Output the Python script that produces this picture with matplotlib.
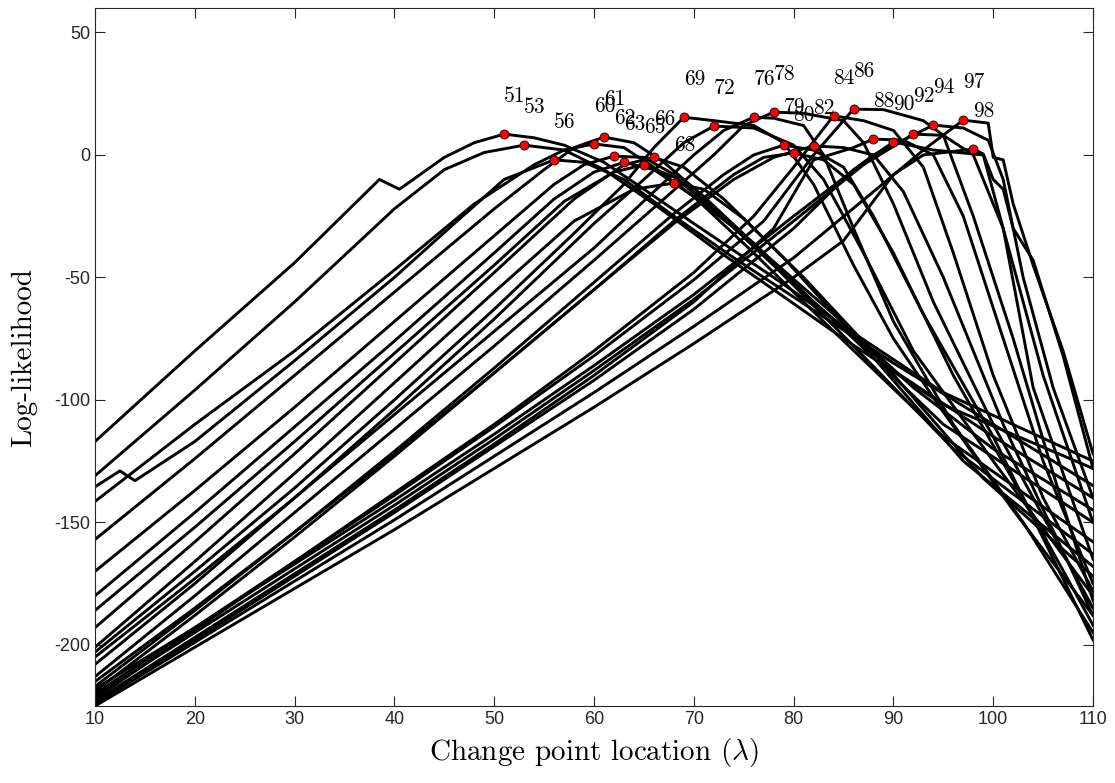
import matplotlib
matplotlib.use("Agg")
import matplotlib.pyplot as plt

plt.rcParams["axes.unicode_minus"] = False
plt.rcParams["mathtext.fontset"] = "cm"

# knots (lambda, log-likelihood)
ll_51 = [(10, -117), (20, -80), (30, -44), (38.5, -10), (40.5, -14), (45, -1), (48, 5), (51, 8.5), (54, 7), (57, 4), (61, -3), (65, -14), (70, -28), (78, -50), (85, -70), (95, -97), (110, -125)]
ll_53 = [(10, -131), (20, -96), (30, -60), (40, -22), (45, -6), (49, 1), (53, 4), (57, 2), (61, -6), (66, -20), (72, -38), (78, -55), (85, -75), (95, -102), (110, -128)]
ll_56 = [(10, -135.5), (12.5, -129), (14, -133), (20, -117), (30, -84), (40, -50), (46, -28), (51, -10), (56, -2), (59, -3), (63, -10), (68, -25), (74, -42), (80, -58), (90, -85), (100, -110), (110, -135)]
ll_60 = [(10, -141.5), (20, -110), (30, -80), (40, -47), (48, -20), (54, -4), (57, 2), (60, 4.5), (63, 3), (66, -5), (70, -17), (76, -36), (82, -60), (90, -88), (100, -115), (110, -140)]
ll_61 = [(10, -157), (20, -124), (30, -90), (40, -56), (50, -22), (55, -6), (58, 3), (61, 7.3), (64, 5), (67, -3), (71, -17), (77, -40), (84, -65), (92, -95), (100, -120), (110, -145)]
ll_62 = [(10, -170), (20, -137), (30, -103), (40, -68), (50, -33), (56, -12), (59, -4), (62, -0.5), (65, -1), (68, -8), (72, -22), (78, -45), (86, -75), (95, -110), (110, -150)]
ll_63 = [(10, -180), (20, -146), (30, -111), (40, -76), (50, -40), (56, -18), (60, -7), (63, -3), (66, -6), (70, -17), (76, -40), (84, -72), (95, -115), (110, -158)]
ll_65 = [(10, -186), (20, -152), (30, -117), (40, -81), (50, -45), (57, -19), (62, -7), (65, -4), (68, -9), (72, -22), (78, -45), (86, -78), (96, -120), (110, -163)]
ll_66 = [(10, -193), (20, -158), (30, -122), (40, -85), (50, -48), (58, -18), (63, -4), (66, -1), (69, -5), (73, -18), (79, -42), (87, -78), (97, -125), (110, -168)]
ll_68 = [(10, -201), (20, -166), (30, -130), (40, -93), (50, -56), (58, -27), (64, -14), (68, -11.5), (71, -14), (75, -26), (81, -50), (89, -85), (99, -132), (110, -172)]
ll_69 = [(10, -203), (20, -170), (30, -136), (40, -100), (50, -63), (58, -32), (63, -12), (66, 3), (69, 15.4), (72, 14), (76, 12), (79, 5), (82, -12), (86, -45), (90, -75), (95, -105), (102, -145), (110, -188)]
ll_72 = [(10, -208), (20, -175), (30, -140), (40, -104), (50, -67), (60, -28), (65, -10), (69, 5), (72, 11.8), (76, 11), (80, 4), (83, -10), (87, -40), (92, -80), (100, -125), (110, -180)]
ll_76 = [(10, -205), (20, -173), (30, -140), (40, -106), (50, -72), (60, -38), (66, -15), (70, 0), (73, 10), (76, 15.4), (78, 15), (81, 12), (83, 0), (86, -30), (90, -68), (96, -110), (103, -150), (110, -195)]
ll_78 = [(10, -213), (20, -180), (30, -146), (40, -112), (50, -78), (60, -43), (67, -18), (72, 0), (75, 12), (78, 17.5), (81, 17), (85, 14), (87, 5), (90, -20), (94, -60), (100, -110), (110, -185)]
ll_79 = [(10, -217), (20, -186), (30, -154), (40, -121), (50, -87), (60, -52), (68, -24), (73, -8), (76, 0), (79, 4), (82, 2), (85, -5), (88, -25), (93, -65), (100, -115), (110, -198)]
ll_80 = [(10, -219), (20, -188), (30, -156), (40, -123), (50, -89), (60, -55), (68, -27), (74, -8), (77, -1), (80, 0.8), (83, -2), (86, -12), (90, -40), (96, -90), (103, -140), (110, -192)]
ll_82 = [(10, -215), (20, -185), (30, -154), (40, -122), (50, -89), (60, -55), (68, -28), (74, -10), (78, -1), (82, 3.7), (85, 3), (88, 0), (91, -15), (95, -50), (101, -110), (110, -188)]
ll_84 = [(10, -222), (20, -194), (30, -166), (40, -138), (50, -110), (60, -80), (70, -48), (76, -25), (80, -5), (84, 16), (87, 14), (90, 10), (93, -5), (96, -40), (100, -90), (105, -140), (110, -178)]
ll_86 = [(10, -220), (20, -193), (30, -166), (40, -139), (50, -111), (60, -82), (70, -51), (77, -27), (82, 0), (86, 18.7), (89, 18.5), (93, 14), (95, 8), (98, -25), (102, -75), (106, -130), (110, -182)]
ll_88 = [(10, -223), (20, -197), (30, -171), (40, -145), (50, -118), (60, -90), (70, -60), (78, -30), (82, -2), (86, 3), (88, 6.5), (91, 6), (94, 0), (97, -25), (101, -75), (105, -125), (110, -175)]
ll_90 = [(10, -224), (20, -198), (30, -172), (40, -146), (50, -119), (60, -92), (70, -63), (80, -30), (86, -6), (90, 5.3), (94, 2), (99, 0), (101, -30), (104, -95), (110, -165)]
ll_92 = [(10, -221), (20, -195), (30, -169), (40, -143), (50, -116), (60, -88), (70, -59), (80, -27), (87, -4), (92, 8.5), (95, 8), (98, 0), (101, -30), (105, -90), (110, -150)]
ll_94 = [(10, -218), (20, -193), (30, -167), (40, -141), (50, -114), (60, -86), (70, -57), (80, -25), (88, 0), (94, 12.2), (97, 11), (99.5, 6), (101, -10), (103, -50), (106, -95), (110, -140)]
ll_97 = [(10, -224), (20, -199), (30, -174), (40, -149), (50, -123), (60, -97), (70, -70), (80, -42), (88, -15), (93, 2), (97, 14.2), (99.5, 13), (100, -1), (101, -2), (102, -20), (104, -45), (107, -80), (110, -122)]
ll_98 = [(10, -225), (20, -201), (30, -177), (40, -153), (50, -128), (60, -103), (70, -77), (80, -50), (85, -35), (90, -8), (93, 0), (98, 2.4), (99, 0.4), (100, -10), (101, -14), (102, -30), (104, -43), (107, -82), (110, -128)]

curves = [ll_51, ll_53, ll_56, ll_60, ll_61, ll_62, ll_63, ll_65, ll_66, ll_68,
          ll_69, ll_72, ll_76, ll_78, ll_79, ll_80, ll_82,
          ll_84, ll_86, ll_88, ll_90, ll_92, ll_94, ll_97, ll_98]

x_ticks = [10, 20, 30, 40, 50, 60, 70, 80, 90, 100, 110]
y_ticks = [-200, -150, -100, -50, 0, 50]

fig = plt.figure(figsize=(11.15, 7.83), dpi=100)
ax = fig.add_axes([0.0852, 0.0983, 0.8951, 0.8915])

for c in curves:
    xs = [p[0] for p in c]
    ys = [p[1] for p in c]
    ax.plot(xs, ys, color="black", lw=2.1, zorder=2)

# red dot at each curve's maximum, labelled with its location
for c in curves:
    bx, by = max(c, key=lambda p: p[1])
    ax.plot(bx, by, "o", ms=6.5, mfc="#ff0000", mec="black", mew=0.6, zorder=3)
    ax.text(bx, by + 15.5, str(int(bx)), family="cmr10", fontsize=15.5,
            ha="left", va="center", zorder=4)

ax.set_xlim(10, 110)
ax.set_ylim(-225, 60)
ax.set_xticks(x_ticks)
ax.set_yticks(y_ticks)
ax.tick_params(direction="in", length=7, width=0.8, top=True, right=True,
               labelsize=13, colors="#262626")
for lab in ax.get_xticklabels() + ax.get_yticklabels():
    lab.set_family("Liberation Sans")
for s in ax.spines.values():
    s.set_color("#262626")
    s.set_linewidth(0.8)

ax.set_xlabel(r"Change point location ($\lambda$)", family="cmr10", fontsize=21, labelpad=6)
ax.set_ylabel("Log-likelihood", family="cmr10", fontsize=21, labelpad=12)

fig.savefig("out.png", dpi=100)
